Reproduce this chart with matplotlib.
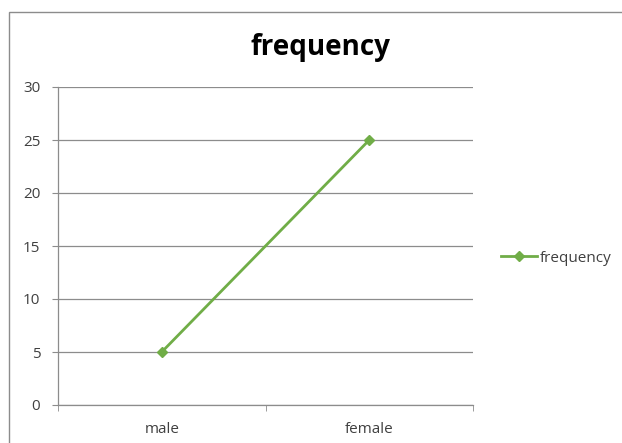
import matplotlib
matplotlib.use("Agg")
import matplotlib.pyplot as plt
from matplotlib.patches import Rectangle
from matplotlib.ticker import FixedLocator

categories = ["male", "female"]
frequency = [5, 25]
y_ticks = [0, 5, 10, 15, 20, 25, 30]
series_name = "frequency"
title = "frequency"

plt.rcParams['font.family'] = ['Open Sans', 'DejaVu Sans']

fig = plt.figure(figsize=(6.22, 4.43), dpi=100)
fig.patch.set_facecolor("white")

# outer chart frame
fig.patches.append(Rectangle((9/622, -0.05), 1.1, 1 - 12/443 + 0.05,
                             transform=fig.transFigure, fill=False,
                             edgecolor="#8c8c8c", linewidth=1.0))

ax = fig.add_axes([58/622, 38/443, 415/622, 318/443])
x = list(range(len(categories)))
line, = ax.plot(x, frequency, color="#70AD47", linewidth=2, marker="D",
                markersize=5, label=series_name)

ax.set_xlim(-0.5, len(categories) - 0.5)
ax.set_ylim(0, 30)
ax.set_yticks(y_ticks)
ax.set_xticks(x)
ax.set_xticklabels(categories)
ax.xaxis.set_minor_locator(FixedLocator([-0.5, 0.5, 1.5]))
ax.tick_params(axis="x", which="major", length=0, pad=12, labelsize=11, labelcolor="#404040")
ax.tick_params(axis="x", which="minor", length=4.3, color="#8c8c8c", direction="out")
ax.tick_params(axis="y", length=4.3, color="#8c8c8c", labelsize=11, pad=8.5,
               labelcolor="#404040")

ax.grid(axis="y", color="#8c8c8c", linewidth=0.9)
ax.set_axisbelow(True)
for s in ["top", "right"]:
    ax.spines[s].set_visible(False)
for s in ["left", "bottom"]:
    ax.spines[s].set_color("#8c8c8c")
    ax.spines[s].set_linewidth(0.9)

fig.text(320/622, 1 - 47/443, title, ha="center", va="center",
         fontsize=20, fontweight="bold", color="black")

fig.legend(handles=[line], loc="center left", bbox_to_anchor=(487/622, 1 - 258/443),
           frameon=False, fontsize=11, handlelength=2.4, handletextpad=0.15,
           labelcolor="#404040")

fig.savefig("out.png", dpi=100)
